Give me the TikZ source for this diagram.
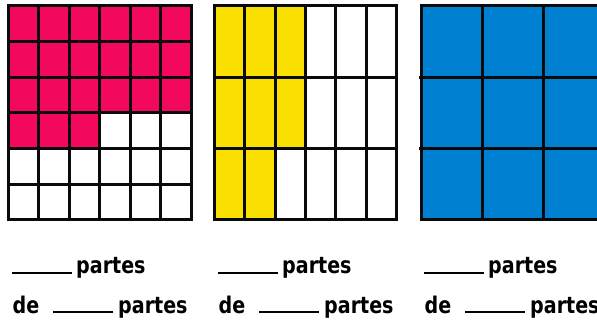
\documentclass[tikz,border=0pt]{standalone}
\usepackage{fontspec}
\newfontfamily\lbl{DejaVu Sans}
\definecolor{pinkc}{RGB}{242,8,92}
\definecolor{yelc}{RGB}{249,224,0}
\definecolor{bluec}{RGB}{0,128,208}
\definecolor{gridc}{RGB}{8,10,12}
\tikzset{
  gridline/.style={line width=3pt, draw=gridc},
  blank/.style={line width=2.4pt, draw=black},
  lab/.style={anchor=base west, inner sep=0pt, font=\lbl\bfseries\fontsize{23}{26}\selectfont}
}
\newcommand{\sq}[1]{\scalebox{0.83}[1]{#1}}
\begin{document}
\begin{tikzpicture}[x=1pt,y=-1pt]
\useasboundingbox (0,0) rectangle (597,320);
\fill[white] (0,0) rectangle (597,320);
\begin{scope}
\clip (0,0) rectangle (597,320);
% grid 1 : 6 x 6
\fill[pinkc] (8,6) rectangle (191,113);
\fill[pinkc] (8,113) rectangle (99.5,148.67);
\foreach \i in {1,...,5} \draw[gridline] ({8+\i*30.5},6) -- ({8+\i*30.5},220);
\foreach \j in {1,...,5} \draw[gridline] (8,{6+\j*35.667}) -- (191,{6+\j*35.667});
\draw[gridline] (8,6) rectangle (191,220);
% grid 2 : 6 x 3
\fill[yelc] (214.5,6) rectangle (305.5,148.67);
\fill[yelc] (214.5,148.67) rectangle (275.17,220);
\foreach \i in {1,...,5} \draw[gridline] ({214.5+\i*30.333},6) -- ({214.5+\i*30.333},220);
\foreach \j in {1,2} \draw[gridline] (214.5,{6+\j*71.333}) -- (396.5,{6+\j*71.333});
\draw[gridline] (214.5,6) rectangle (396.5,220);
% grid 3 : 3 x 3
\fill[bluec] (421,6) rectangle (604,220);
\foreach \i in {1,2} \draw[gridline] ({421+\i*61},6) -- ({421+\i*61},220);
\foreach \j in {1,2} \draw[gridline] (419,{6+\j*71.333}) -- (604,{6+\j*71.333});
\draw[gridline] (421,6) rectangle (604,220);
\end{scope}
% labels
\foreach \o/\n in {12/a,218/b,424/c}{
  \draw[blank] (\o,273) -- ({\o+60},273);
  \node[lab] (p1\n) at ({\o+64},274) {\sq{partes}};
  \node[lab] (de\n) at ({\o+0.5},313) {\sq{de}};
  \draw[blank] ({\o+41},312) -- ({\o+101},312);
  \node[lab] (p2\n) at ({\o+106},313) {\sq{partes}};
}
\end{tikzpicture}
\end{document}
